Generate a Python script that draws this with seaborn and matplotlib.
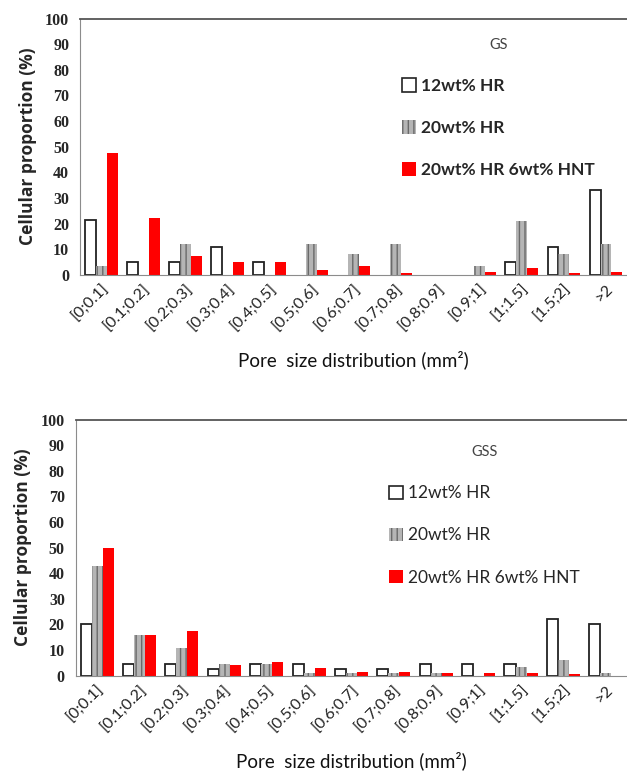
import pandas as pd
import matplotlib
matplotlib.use('Agg')
import matplotlib.pyplot as plt
import seaborn as sns

# Pore size classes (mm2)
categories = ['[0;0.1]', '[0.1;0.2]', '[0.2;0.3]', '[0.3;0.4]', '[0.4;0.5]', '[0.5;0.6]',
              '[0.6;0.7]', '[0.7;0.8]', '[0.8;0.9]', '[0.9;1]', '[1;1.5]', '[1.5;2]', '>2']
series = ['12wt% HR', '20wt% HR', '20wt% HR 6wt% HNT']

# GS panel
gs_12hr = [21.5, 5, 5, 11, 5, 0, 0, 0, 0, 0, 5, 11, 33]
gs_20hr = [3.5, 0, 12, 0, 0, 12, 8, 12, 0, 3.5, 21, 8, 12]
gs_hnt = [47.5, 22, 7.5, 5, 5, 2, 3.5, 0.8, 0, 1, 2.5, 0.8, 1.2]

# GSS panel
gss_12hr = [20, 4.5, 4.5, 2.5, 4.5, 4.5, 2.5, 2.5, 4.5, 4.5, 4.5, 22, 20]
gss_20hr = [43, 16, 11, 4.5, 4.5, 1, 1.2, 1, 1, 0, 3.5, 6, 1.2]
gss_hnt = [50, 16, 17.5, 4, 5.5, 3, 1.3, 1.3, 1, 1, 1, 0.5, 0]


def to_long(a, b, c):
    rows = []
    for name, vals in zip(series, [a, b, c]):
        for cat, v in zip(categories, vals):
            rows.append({'pore': cat, 'series': name, 'value': v})
    return pd.DataFrame(rows)


def draw_panel(ax, df, title, legend_bold, leg_pos):
    sns.barplot(data=df, x='pore', y='value', hue='series', order=categories,
                hue_order=series, ax=ax, width=0.78, legend=True)

    styles = [dict(facecolor='white', edgecolor='#222222', hatch=None, lw=1.3),
              dict(facecolor='#b5b5b5', edgecolor='#6a6a6a', hatch='|||', lw=0),
              dict(facecolor='#ff0000', edgecolor='#ff0000', hatch=None, lw=0)]
    for cont, st in zip(ax.containers, styles):
        for p in cont.patches:
            p.set_facecolor(st['facecolor'])
            p.set_edgecolor(st['edgecolor'])
            p.set_linewidth(st['lw'])
            if st['hatch']:
                p.set_hatch(st['hatch'])
            if p.get_height() == 0:
                p.set_visible(False)

    ax.set_ylim(0, 100)
    ax.set_xlim(-0.5, len(categories) - 0.5)
    ax.set_yticks(range(0, 101, 10))
    ax.set_yticklabels([str(v) for v in range(0, 101, 10)],
                       family='Liberation Serif', fontweight='bold', fontsize=11.5)
    ax.set_xticks(range(len(categories)))
    ax.set_xticklabels(categories, rotation=45, ha='right', rotation_mode='anchor',
                       fontsize=11.5, color='#222222')
    ax.tick_params(axis='x', length=0, pad=5)
    ax.set_xticks([i + 0.5 for i in range(-1, len(categories))], minor=True)
    ax.tick_params(axis='x', which='minor', length=5, color='#888888', direction='out')
    ax.tick_params(axis='y', length=4, color='#888888', direction='out', pad=4)

    ax.set_ylabel('Cellular proportion (%)', fontsize=12.5, fontweight='bold',
                  family=['Open Sans', 'DejaVu Sans'], labelpad=6)
    ax.set_xlabel('Pore  size distribution (mm²)', fontsize=13.5, color='#111111',
                  labelpad=12)

    for side in ['left', 'bottom']:
        ax.spines[side].set_color('#8c8c8c')
    ax.spines['top'].set_color('#555555')
    ax.spines['top'].set_linewidth(1.3)
    ax.spines['right'].set_visible(False)
    ax.grid(False)

    leg = ax.legend(title=title, loc='upper left', bbox_to_anchor=leg_pos,
                    frameon=False, fontsize=12.5, title_fontsize=10.5, labelspacing=1.5,
                    handlelength=0.8, handleheight=0.8, handletextpad=0.3,
                    alignment='center')
    for h, st in zip(leg.legend_handles, styles):
        h.set_facecolor(st['facecolor'])
        h.set_edgecolor(st['edgecolor'])
        h.set_linewidth(1.2 if st['lw'] else 0)
        if st['hatch']:
            h.set_hatch(st['hatch'])
    leg.get_title().set_color('#444444')
    for t in leg.get_texts():
        t.set_fontweight('bold' if legend_bold else 'normal')


sns.set_style('white')
plt.rcParams['font.family'] = ['Lato', 'DejaVu Sans']
plt.rcParams['hatch.linewidth'] = 1.0

fig = plt.figure(figsize=(6.27, 7.74), dpi=100)
ax1 = fig.add_axes([0.128, 0.645, 0.872, 0.331])
ax2 = fig.add_axes([0.121, 0.127, 0.879, 0.331])

draw_panel(ax1, to_long(gs_12hr, gs_20hr, gs_hnt), 'GS', True, (0.56, 0.985))
draw_panel(ax2, to_long(gss_12hr, gss_20hr, gss_hnt), 'GSS', False, (0.54, 0.96))

fig.savefig('out.png', dpi=100)
